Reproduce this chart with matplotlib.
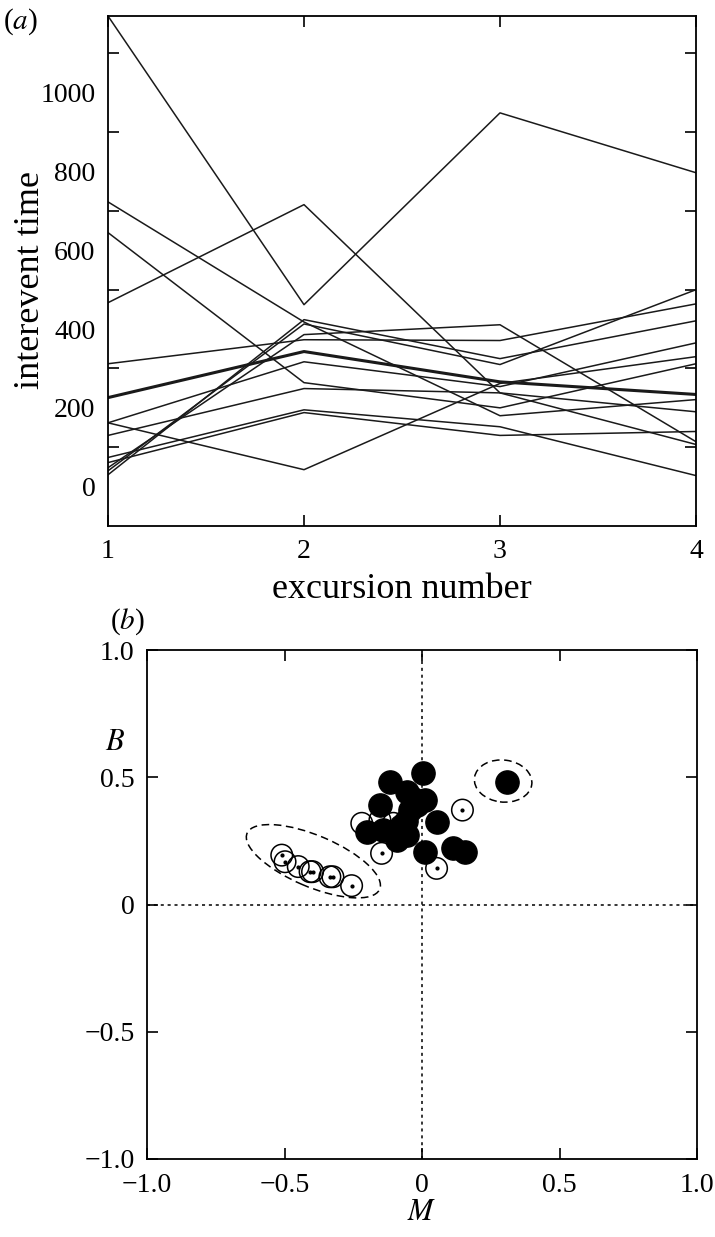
import numpy as np
import matplotlib
matplotlib.use("Agg")
import matplotlib.pyplot as plt
from matplotlib.patches import Ellipse
from matplotlib.ticker import FixedLocator

plt.rcParams['font.family'] = ['Liberation Serif', 'DejaVu Serif']
plt.rcParams['mathtext.fontset'] = 'stix'

# panel (a): interevent time per excursion, one row per series
excursion = [1, 2, 3, 4]
interevent = [
    [1195, 462, 949, 797],
    [467, 716, 238, 107],
    [723, 418, 180, 221],
    [645, 264, 200, 312],
    [312, 373, 371, 464],
    [30, 424, 325, 421],
    [162, 43, 262, 330],
    [162, 317, 254, 365],
    [130, 249, 238, 190],
    [74, 195, 152, 28],
    [61, 188, 130, 140],
    [48, 386, 411, 114],
    [40, 413, 310, 500],
]
bold_series = [226, 343, 266, 234]

# panel (b): M, B points
filled_M = [-0.116, 0.005, -0.153, 0.011, -0.056, -0.035, -0.044, -0.06, 0.053,
            -0.201, -0.141, -0.092, -0.056, 0.011, 0.114, 0.156, 0.308, -0.075, -0.02]
filled_B = [0.482, 0.515, 0.391, 0.41, 0.443, 0.42, 0.371, 0.33, 0.325,
            0.286, 0.293, 0.253, 0.273, 0.207, 0.221, 0.207, 0.482, 0.31, 0.39]
open_M = [-0.219, -0.153, -0.104, -0.147, 0.147, 0.053,
          -0.51, -0.498, -0.45, -0.407, -0.398, -0.335, -0.324, -0.256]
open_B = [0.319, 0.332, 0.319, 0.201, 0.371, 0.142,
          0.194, 0.168, 0.149, 0.129, 0.129, 0.109, 0.109, 0.074]
open_dot = [False, False, True, True, True, True,
            True, True, True, True, True, True, True, True]

fig = plt.figure(figsize=(7.15, 12.37), dpi=100)

# ---- panel (a)
ax1 = fig.add_axes([108/715, 1-526/1237, 588/715, 510/1237])
for s in interevent:
    ax1.plot(excursion, s, color='#1a1a1a', lw=1.1)
ax1.plot(excursion, bold_series, color='#1a1a1a', lw=2.2)
ax1.set_xlim(1, 4)
ax1.set_ylim(-100, 1195)
ax1.set_xticks(excursion)
ax1.set_xticklabels(['1', '2', '3', '4'])
ax1.set_yticks([0, 200, 400, 600, 800, 1000])
ax1.yaxis.set_minor_locator(FixedLocator([100, 300, 500, 700, 900, 1100]))
ax1.tick_params(axis='y', which='major', length=0, labelsize=20, pad=9)
ax1.tick_params(axis='y', which='minor', direction='in', length=8, width=1.2,
                left=True, right=True)
ax1.tick_params(axis='x', which='major', direction='in', length=8, width=1.2,
                top=True, labelsize=20, pad=9)
for sp in ax1.spines.values():
    sp.set_linewidth(1.3)
ax1.set_xlabel('excursion number', fontsize=26)
ax1.set_ylabel('interevent time', fontsize=26)
ax1.xaxis.set_label_coords(0.5, -(590 - 526) / 510)
ax1.xaxis.label.set_va('center')
ax1.yaxis.set_label_coords(-(108 - 31) / 588, (526 - 280) / 510)
ax1.yaxis.label.set_va('center')
fig.text(3/715, 1-22/1237, '($a$)', fontsize=21, va='center', ha='left')

# ---- panel (b)
ax2 = fig.add_axes([147/715, 1-1159/1237, 550/715, 509/1237])
ax2.axvline(0, color='black', lw=1.1, ls=(0, (2, 2.5)), zorder=1)
ax2.axhline(0, color='black', lw=1.1, ls=(0, (2, 2.5)), zorder=1)
ax2.scatter(open_M, open_B, s=240, facecolors='none', edgecolors='black',
            linewidths=1.1, zorder=2)
dm = [m for m, d in zip(open_M, open_dot) if d]
db = [b for b, d in zip(open_B, open_dot) if d]
ax2.scatter(dm, db, s=4, color='black', zorder=2)
ax2.scatter(filled_M, filled_B, s=280, color='black', edgecolors='black', zorder=3)
ax2.add_patch(Ellipse((-0.395, 0.17), 0.53, 0.2, angle=-25, fill=False,
                      ls=(0, (5, 3)), lw=1.1, color='black'))
ax2.add_patch(Ellipse((0.295, 0.485), 0.21, 0.165, angle=-8, fill=False,
                      ls=(0, (5, 3)), lw=1.1, color='black'))
ticks_b = [-1.0, -0.5, 0, 0.5, 1.0]
labels_b = ['\u22121.0', '\u22120.5', '0', '0.5', '1.0']
ax2.set_xlim(-1, 1)
ax2.set_ylim(-1, 1)
ax2.set_xticks(ticks_b)
ax2.set_xticklabels(labels_b)
ax2.set_yticks(ticks_b)
ax2.set_yticklabels(labels_b)
ax2.tick_params(direction='in', length=8, width=1.2, top=True, right=True,
                labelsize=20)
ax2.tick_params(axis='x', pad=10)
ax2.tick_params(axis='y', pad=9)
for sp in ax2.spines.values():
    sp.set_linewidth(1.3)
fig.text(115/715, 1-742/1237, '$B$', fontsize=22, va='center', ha='center')
fig.text(422/715, 1-1212/1237, '$M$', fontsize=22, va='center', ha='center')
fig.text(110/715, 1-622/1237, '($b$)', fontsize=21, va='center', ha='left')

fig.savefig('out.png', dpi=100)
